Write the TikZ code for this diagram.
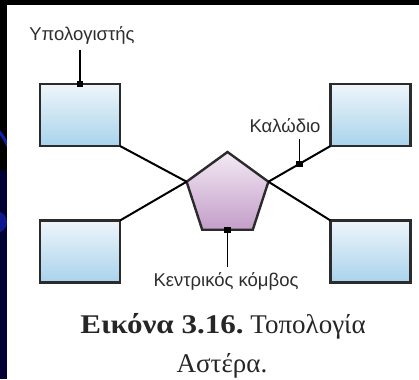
\documentclass[tikz,border=0pt]{standalone}
\usepackage{fontspec}
\setmainfont{Liberation Serif}
\newfontfamily\labelfont{Liberation Sans}
\usetikzlibrary{shapes.geometric,calc}
\definecolor{frame}{HTML}{2B2B2B}
\definecolor{boxtop}{HTML}{EEF5FA}
\definecolor{boxbot}{HTML}{A9D3EC}
\definecolor{hubtop}{HTML}{F3EAF4}
\definecolor{hubbot}{HTML}{C39DC9}
\definecolor{navy}{HTML}{000033}
\definecolor{slideblue}{HTML}{1020B0}
\definecolor{ink}{HTML}{2E2E2E}
\tikzset{
  pc/.style={draw=frame, line width=2.8pt, rectangle, minimum width=80pt,
    minimum height=62pt, inner sep=0pt, outer sep=0pt,
    top color=boxtop, bottom color=boxbot},
  hub/.style={draw=frame, line width=2.4pt, regular polygon, regular polygon sides=5,
    minimum size=86pt, inner sep=0pt, outer sep=0pt,
    top color=hubtop, bottom color=hubbot},
  cable/.style={draw=black, line width=2pt},
  tag/.style={fill=black, minimum size=6.5pt, inner sep=0pt, outer sep=0pt, rectangle},
  leader/.style={draw=black, line width=1.2pt},
  lbl/.style={font=\labelfont\fontsize{18.5}{22}\selectfont, text=ink, inner sep=0pt},
  captext/.style={font=\fontsize{27}{32}\selectfont, text=black!85, inner sep=0pt, anchor=base}
}
\begin{document}
\begin{tikzpicture}[x=1pt, y=-1pt]
  \useasboundingbox (0,0) rectangle (419,379);
  % slide backdrop behind the figure
  \fill[black] (0,0) rectangle (419,379);
  \begin{scope}
    \clip (0,5) rectangle (7,379);
    \fill[navy] (0,170) rectangle (7,379);
    \draw[slideblue, line width=3pt] (-20,120) .. controls (0,130) .. (10,150);
    \fill[slideblue!80!black] (-4,222) circle (11pt);
  \end{scope}
  \fill[white] (7,5) rectangle (419,379);

  % computers
  \node[pc] (pcA) at (80,115) {};
  \node[pc] (pcB) at (370.5,115) {};
  \node[pc] (pcC) at (80,251.5) {};
  \node[pc] (pcD) at (370.5,251.5) {};

  % central node
  \node[hub] (hub) at (227.5,195) {};

  % cables
  \draw[cable] (pcA.south east) -- (hub.corner 2);
  \draw[cable] (pcC.north east) -- (hub.corner 2);
  \draw[cable] (pcB.south west) -- (hub.corner 5);
  \draw[cable] (pcD.north west) -- (hub.corner 5);

  % callout markers
  \node[tag] (tagA) at (pcA.north) {};
  \node[tag] (tagW) at ($(pcB.south west)!0.5!(hub.corner 5)$) {};
  \node[tag] (tagH) at ($(hub.corner 3)!0.5!(hub.corner 4)$) {};

  % labels with leaders
  \node[lbl] (tA) at (82,35) {Υπολογιστής};
  \coordinate (tAend) at (tagA |- 50,50);
  \draw[leader] (tagA) -- (tAend);
  \node[lbl] (tW) at (285,126) {Καλώδιο};
  \coordinate (tWend) at (tagW |- 139,139);
  \draw[leader] (tagW) -- (tWend);
  \node[lbl] (tH) at (226,281) {Κεντρικός κόμβος};
  \coordinate (tHend) at (tagH |- 267,267);
  \draw[leader] (tagH) -- (tHend);

  % caption
  \node[captext] (cap1) at (223,333) {\scalebox{1.15}[1]{\textbf{Εικόνα 3.16.}} Τοπολογία};
  \node[captext] (cap2) at (222,372) {Αστέρα.};
\end{tikzpicture}
\end{document}
